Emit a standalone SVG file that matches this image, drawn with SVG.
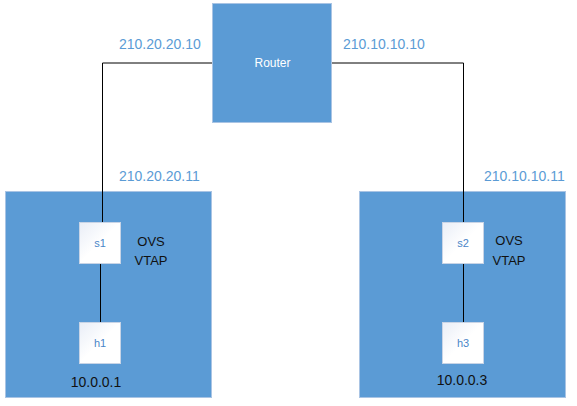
<svg xmlns="http://www.w3.org/2000/svg" width="577" height="406" viewBox="0 0 577 406">
<style>
.box{fill:#5b9bd5;stroke:#a9c4e4;stroke-width:1}
.node{fill:url(#ng);stroke:#c8d4e6;stroke-width:1}
.ip{font-family:"Liberation Sans",Arial,sans-serif;font-size:14px;fill:#5b9bd5}
.nl{font-family:"Liberation Sans",Arial,sans-serif;font-size:11px;fill:#4a86c8;text-anchor:middle}
.bl{font-family:"Liberation Sans",Arial,sans-serif;font-size:13px;fill:#111;text-anchor:middle}
.ad{font-family:"Liberation Sans",Arial,sans-serif;font-size:14px;fill:#111;text-anchor:middle}
.wire{fill:none;stroke:#000;stroke-width:1}
</style>
<defs>
<linearGradient id="ng" x1="0" y1="0" x2="1" y2="1">
<stop offset="0" stop-color="#e9eef7"/>
<stop offset="0.5" stop-color="#ffffff"/>
<stop offset="1" stop-color="#ffffff"/>
</linearGradient>
</defs>
<g id="site1">
<rect class="box" x="5.5" y="191.5" width="206" height="206"/>
</g>
<g id="site2">
<rect class="box" x="359.5" y="191.5" width="206" height="206"/>
</g>
<g id="connectors">
<path class="wire" d="M212,63 H102.5 V222"/>
<path class="wire" d="M332,63 H463.5 V222"/>
<path class="wire" d="M100.5,264 V322"/>
<path class="wire" d="M463.5,264 V322"/>
</g>
<g id="router">
<rect class="box" x="212.5" y="3.5" width="119" height="119"/>
<text x="272.5" y="67" font-family="'Liberation Sans',Arial,sans-serif" font-size="12" fill="#fff" text-anchor="middle">Router</text>
</g>
<g id="s1">
<rect class="node" x="79.5" y="222.5" width="41" height="41"/>
<text class="nl" x="100" y="247">s1</text>
</g>
<g id="h1">
<rect class="node" x="79.5" y="322.5" width="41" height="41"/>
<text class="nl" x="100" y="347">h1</text>
</g>
<g id="s2">
<rect class="node" x="442.5" y="222.5" width="41" height="41"/>
<text class="nl" x="463" y="247">s2</text>
</g>
<g id="h3">
<rect class="node" x="442.5" y="322.5" width="41" height="41"/>
<text class="nl" x="463" y="347">h3</text>
</g>
<g id="labels">
<text class="ip" x="119" y="49">210.20.20.10</text>
<text class="ip" x="343" y="49">210.10.10.10</text>
<text class="ip" x="119" y="181">210.20.20.11</text>
<text class="ip" x="484" y="181">210.10.10.11</text>
<text class="bl" x="151" y="246">OVS</text>
<text class="bl" x="151" y="265">VTAP</text>
<text class="bl" x="509" y="245">OVS</text>
<text class="bl" x="509" y="265">VTAP</text>
<text class="ad" x="96" y="387">10.0.0.1</text>
<text class="ad" x="462" y="385">10.0.0.3</text>
</g>
</svg>
